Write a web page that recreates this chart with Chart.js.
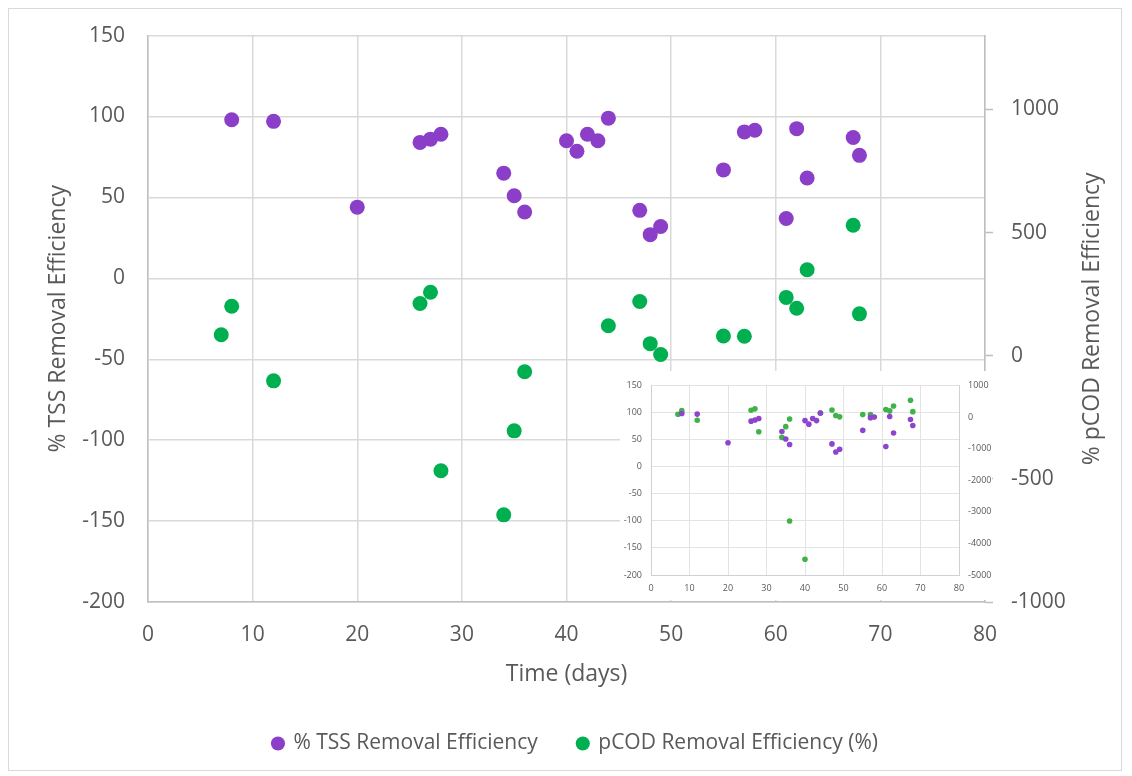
<!DOCTYPE html>
<html>
<head>
<meta charset="utf-8">
<script src="https://cdn.jsdelivr.net/npm/chart.js@4.4.1/dist/chart.umd.min.js"></script>
<style>
  html, body { margin: 0; padding: 0; background: #fff; }
  #wrap { position: relative; width: 1132px; height: 776px; }
  #frame { position: absolute; left: 8px; top: 8px; width: 1112px; height: 761px; border: 1px solid #d9d9d9; pointer-events: none; }
  #inset { position: absolute; left: 620px; top: 371px; width: 372px; height: 229px; background: #fff; }
</style>
</head>
<body>
<div id="wrap">
  <canvas id="main" width="1132" height="776"></canvas>
  <div id="frame"></div>
  <div id="inset"><canvas id="small" width="372" height="229"></canvas></div>
</div>
<script>
// --- data ---
const tssDays = [8, 12, 20, 26, 27, 28, 34, 35, 36, 40, 41, 42, 43, 44, 47, 48, 49, 55, 57, 58, 61, 62, 63, 67.4, 68];
const tssEff  = [98, 97, 44, 84, 86, 89, 65, 51, 41, 85, 78.5, 89, 85, 99, 42, 27, 32, 67, 90.5, 91.5, 37, 92.5, 62, 87, 76];

const codDays = [7, 8, 12, 26, 27, 28, 34, 35, 36, 36, 40, 44, 47, 48, 49, 55, 57, 61, 62, 63, 67.4, 68];
const codEff  = [85, 201, -102, 212, 258, -467, -646, -305, -65, -3290, -4500, 122, 220, 49, 5, 80, 79, 237, 193, 349, 530, 170];

const leftTicks  = [-200, -150, -100, -50, 0, 50, 100, 150];
const rightTicks = [-1000, -500, 0, 500, 1000];
const insetRightTicks = [-5000, -4000, -3000, -2000, -1000, 0, 1000];

const tssLabel = '% TSS Removal Efficiency';
const codLabel = 'pCOD Removal Efficiency (%)';
const rightTitle = '% pCOD Removal Efficiency';

const purple = '#8b3fc8';
const green = '#00b050';
const textColor = '#595959';
const gridColor = '#d9d9d9';
const FONT = "'Open Sans', sans-serif";

function toPoints(xs, ys) {
    return xs.map((x, i) => ({ x: x, y: ys[i] }));
}

const plainNumber = (v) => String(v);

// right axis title reads bottom-to-top like the left one
const rightTitlePlugin = {
    id: 'rightTitle',
    afterDraw(chart) {
        const s = chart.scales.y2;
        const ctx = chart.ctx;
        ctx.save();
        ctx.translate(s.right - 14, (chart.chartArea.top + chart.chartArea.bottom) / 2);
        ctx.rotate(-Math.PI / 2);
        ctx.font = "23px " + FONT;
        ctx.fillStyle = textColor;
        ctx.textAlign = 'center';
        ctx.textBaseline = 'middle';
        ctx.fillText(rightTitle, 0, 0);
        ctx.restore();
    }
};

// --- main chart ---
new Chart(document.getElementById('main'), {
    type: 'scatter',
    data: {
        datasets: [
            {
                label: tssLabel,
                data: toPoints(tssDays, tssEff),
                yAxisID: 'y',
                backgroundColor: purple,
                pointBackgroundColor: purple,
                pointBorderWidth: 0,
                pointRadius: 7.5,
                pointStyle: 'circle'
            },
            {
                label: codLabel,
                data: toPoints(codDays, codEff),
                yAxisID: 'y2',
                backgroundColor: green,
                pointBackgroundColor: green,
                pointBorderWidth: 0,
                pointRadius: 7.5,
                pointStyle: 'circle'
            }
        ]
    },
    options: {
        responsive: false,
        animation: false,
        devicePixelRatio: 1,
        layout: { padding: { left: 45, right: 26, top: 34, bottom: 12 } },
        plugins: {
            tooltip: { enabled: false },
            legend: {
                position: 'bottom',
                labels: {
                    usePointStyle: true,
                    boxWidth: 10,
                    boxHeight: 10,
                    padding: 40,
                    color: textColor,
                    font: { family: FONT, size: 21 }
                }
            }
        },
        scales: {
            x: {
                type: 'linear',
                min: 0, max: 80,
                ticks: { stepSize: 10, color: textColor, padding: 20, font: { family: FONT, size: 21 } },
                grid: { color: gridColor, lineWidth: 1.5, drawTicks: false },
                border: { color: '#bfbfbf', width: 1.5 },
                title: { display: true, text: 'Time (days)', color: textColor, font: { family: FONT, size: 23 }, padding: { top: 0, bottom: 5 } },
                afterFit: (scale) => { scale.height = 91; }
            },
            y: {
                position: 'left',
                min: -200, max: 150,
                afterBuildTicks: (scale) => { scale.ticks = leftTicks.map(v => ({ value: v })); },
                ticks: { color: textColor, padding: 23, font: { family: FONT, size: 21 }, callback: plainNumber },
                grid: { color: gridColor, lineWidth: 1.5, drawTicks: false },
                border: { color: '#bfbfbf', width: 1.5 },
                title: { display: true, text: tssLabel, color: textColor, font: { family: FONT, size: 23 }, padding: 0 },
                afterFit: (scale) => { scale.width = 103; }
            },
            y2: {
                position: 'right',
                min: -1000, max: 1300,
                afterBuildTicks: (scale) => { scale.ticks = rightTicks.map(v => ({ value: v })); },
                ticks: { color: textColor, padding: 18, font: { family: FONT, size: 21 }, callback: plainNumber },
                grid: { drawOnChartArea: false, drawTicks: true, tickLength: 8, tickColor: '#bfbfbf', tickWidth: 1.5 },
                border: { color: '#bfbfbf', width: 1.5 },
                title: { display: false },
                afterFit: (scale) => { scale.width = 121; }
            }
        }
    },
    plugins: [rightTitlePlugin]
});

// --- inset chart (full pCOD range) ---
new Chart(document.getElementById('small'), {
    type: 'scatter',
    data: {
        datasets: [
            {
                label: tssLabel,
                data: toPoints(tssDays, tssEff),
                yAxisID: 'y',
                pointBackgroundColor: '#8e44cc',
                pointBorderWidth: 0,
                pointRadius: 2.8
            },
            {
                label: codLabel,
                data: toPoints(codDays, codEff),
                yAxisID: 'y2',
                pointBackgroundColor: '#3fb34a',
                pointBorderWidth: 0,
                pointRadius: 2.8
            }
        ]
    },
    options: {
        responsive: false,
        animation: false,
        devicePixelRatio: 1,
        layout: { padding: { left: 0, right: 0, top: 9, bottom: 0 } },
        plugins: { legend: { display: false }, tooltip: { enabled: false } },
        scales: {
            x: {
                type: 'linear',
                min: 0, max: 80,
                ticks: { stepSize: 10, color: textColor, padding: 8, font: { family: FONT, size: 9 } },
                grid: { color: '#e3e3e3', lineWidth: 1, drawTicks: false },
                border: { color: '#d0d0d0', width: 1 },
                afterFit: (scale) => { scale.height = 25; }
            },
            y: {
                position: 'left',
                min: -200, max: 150,
                afterBuildTicks: (scale) => { scale.ticks = leftTicks.map(v => ({ value: v })); },
                ticks: { color: textColor, padding: 9, font: { family: FONT, size: 9 }, callback: plainNumber },
                grid: { color: '#e3e3e3', lineWidth: 1, drawTicks: false },
                border: { color: '#d0d0d0', width: 1 },
                afterFit: (scale) => { scale.width = 31; }
            },
            y2: {
                position: 'right',
                min: -5000, max: 1000,
                afterBuildTicks: (scale) => { scale.ticks = insetRightTicks.map(v => ({ value: v })); },
                ticks: { color: textColor, padding: 9, font: { family: FONT, size: 9 }, callback: plainNumber },
                grid: { drawOnChartArea: false, drawTicks: false },
                border: { color: '#d0d0d0', width: 1 },
                afterFit: (scale) => { scale.width = 33; }
            }
        }
    }
});
</script>
</body>
</html>
